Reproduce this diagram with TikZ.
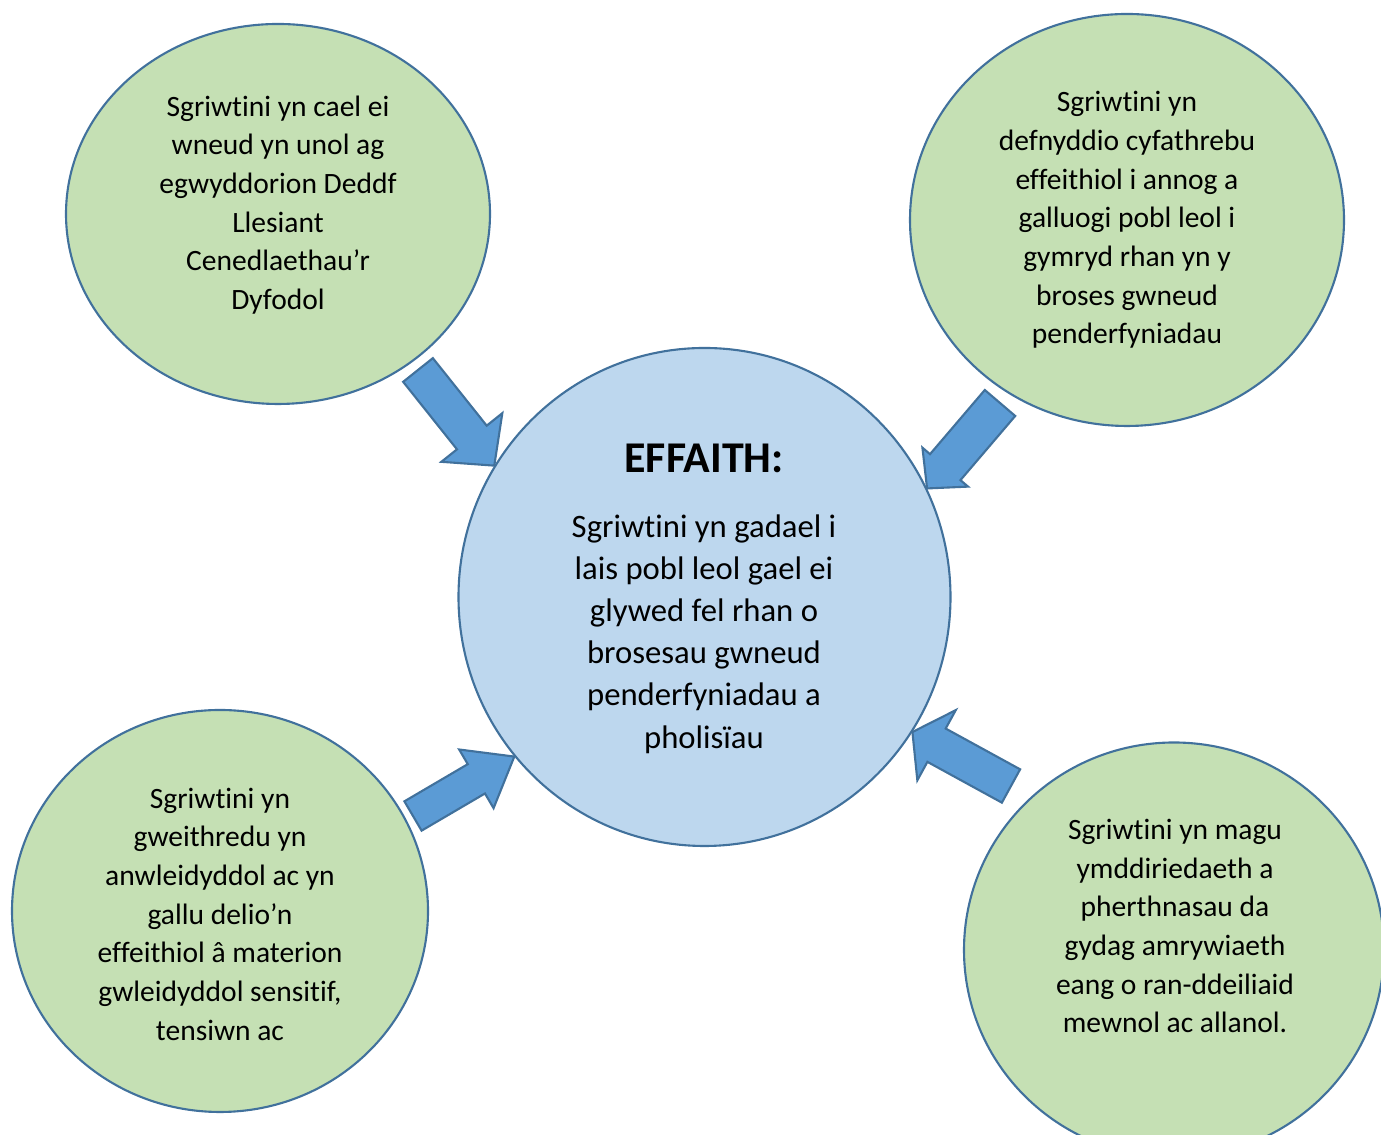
\documentclass[tikz,border=0pt]{standalone}
\usepackage{fontspec}
\setmainfont{Carlito}[Ligatures=NoCommon]
\usetikzlibrary{calc,shapes.geometric,backgrounds}

\definecolor{bubblegreen}{HTML}{C5E0B4}
\definecolor{centreblue}{HTML}{BDD7EE}
\definecolor{arrowblue}{HTML}{5B9BD5}
\definecolor{edgeblue}{HTML}{41719C}

\tikzset{
	bubble/.style={ellipse, draw=edgeblue, fill=bubblegreen, line width=1.2pt, inner sep=0pt},
	centre/.style={bubble, fill=centreblue},
	bubbletext/.style={align=center, font=\fontsize{16.8}{22}\selectfont},
	centretext/.style={align=center, font=\fontsize{18.6}{24}\selectfont},
	blockarrow/.style={draw=edgeblue, fill=arrowblue, line width=1.2pt, line join=miter},
}

% tail, tip, shaft half width, head half width, head length
\newcommand{\blockarrow}[5]{%
	\coordinate (ba-j) at ($(#2)!#5!(#1)$);
	\draw[blockarrow] ($(#1)!#3!90:(#2)$) -- ($(ba-j)!#3!90:(#2)$) -- ($(ba-j)!#4!90:(#2)$)
		-- (#2) -- ($(ba-j)!#4!-90:(#2)$) -- ($(ba-j)!#3!-90:(#2)$) -- ($(#1)!#3!-90:(#2)$) -- cycle;
}

\begin{document}
\begin{tikzpicture}
	\useasboundingbox (0,0) rectangle (27.62,22.7);
	\clip (0,0) rectangle (27.62,22.7);

	% bubbles
	\node[bubble, minimum width=8.48cm, minimum height=7.6cm] (tl) at (5.56,18.42) {};
	\node[bubble, minimum width=8.68cm, minimum height=8.24cm] (tr) at (22.54,18.30) {};
	\node[bubble, minimum width=8.32cm, minimum height=8.04cm] (bl) at (4.40,4.48) {};
	\node[bubble, minimum width=8.4cm, minimum height=8.3cm] (br) at (23.48,3.70) {};
	\node[centre, minimum width=9.84cm, minimum height=9.96cm] (c) at (14.09,10.76) {};

	% texts
	\node[bubbletext] (tltext) at (5.56,18.6) {Sgriwtini yn cael ei\\wneud yn unol ag\\egwyddorion Deddf\\Llesiant\\Cenedlaethau’r\\Dyfodol};
	\node[bubbletext] (trtext) at (tr) {Sgriwtini yn\\defnyddio cyfathrebu\\effeithiol i annog a\\galluogi pobl leol i\\gymryd rhan yn y\\broses gwneud\\penderfyniadau};
	\node[bubbletext] (bltext) at (4.40,4.42) {Sgriwtini yn\\gweithredu yn\\anwleidyddol ac yn\\gallu delio’n\\effeithiol â materion\\gwleidyddol sensitif,\\tensiwn ac};
	\node[bubbletext] (brtext) at (23.5,4.18) {Sgriwtini yn magu\\ymddiriedaeth a\\pherthnasau da\\gydag amrywiaeth\\eang o ran-ddeiliaid\\mewnol ac allanol.};
	\node[font=\fontsize{25}{30}\selectfont\bfseries] (head) at (14.08,13.54) {EFFAITH:};
	\node[centretext] (ctext) at (14.08,10.02) {Sgriwtini yn gadael i\\lais pobl leol gael ei\\glywed fel rhan o\\brosesau gwneud\\penderfyniadau a\\pholisïau};

	% arrows
	\coordinate (tlout) at (8.36,15.30);
	\coordinate (trout) at (20.00,14.64);
	\coordinate (blout) at (8.26,6.38);
	\coordinate (brout) at (20.22,6.98);
	\begin{scope}[on background layer]
		\blockarrow{tlout}{c.148}{0.38cm}{0.78cm}{0.72cm}
		\blockarrow{trout}{c.26}{0.40cm}{0.60cm}{0.56cm}
		\blockarrow{blout}{c.220}{0.34cm}{0.68cm}{0.88cm}
		\blockarrow{brout}{c.327}{0.38cm}{0.80cm}{0.55cm}
	\end{scope}
\end{tikzpicture}
\end{document}
